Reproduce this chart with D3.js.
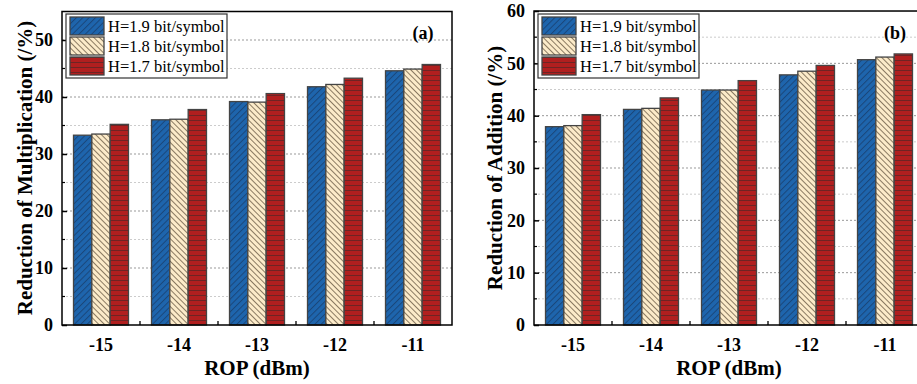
<!DOCTYPE html>
<html>
<head>
<meta charset="utf-8">
<script src="https://cdn.jsdelivr.net/npm/d3@7/dist/d3.min.js"></script>
<style>
    body { margin: 0; background: #fff; }
    svg { display: block; }
</style>
</head>
<body>
<svg id="chart" width="917" height="384"></svg>
<script>
// data
const rop = ["-15", "-14", "-13", "-12", "-11"];
const seriesNames = ["H=1.9 bit/symbol", "H=1.8 bit/symbol", "H=1.7 bit/symbol"];
const multH19 = [33.3, 36.0, 39.2, 41.8, 44.6];
const multH18 = [33.5, 36.1, 39.1, 42.2, 44.9];
const multH17 = [35.2, 37.8, 40.6, 43.3, 45.7];
const addH19 = [37.9, 41.2, 44.9, 47.8, 50.7];
const addH18 = [38.1, 41.4, 44.9, 48.5, 51.2];
const addH17 = [40.2, 43.4, 46.7, 49.6, 51.8];
const multTicks = [0, 10, 20, 30, 40, 50];
const addTicks = [0, 10, 20, 30, 40, 50, 60];

const FONT = "Liberation Serif";
const svg = d3.select("#chart").attr("font-family", FONT);

// hatch patterns
const defs = svg.append("defs");
function hatch(id, bg, line, angle, gap) {
    let p = defs.append("pattern").attr("id", id)
        .attr("patternUnits", "userSpaceOnUse")
        .attr("width", gap).attr("height", gap)
        .attr("patternTransform", "rotate(" + angle + ")");
    p.append("rect").attr("width", gap).attr("height", gap).attr("fill", bg);
    p.append("line").attr("x1", 0.5).attr("y1", 0).attr("x2", 0.5).attr("y2", gap)
        .attr("stroke", line).attr("stroke-width", 1);
}
hatch("pBlue", "#1e65ad", "#1a467a", 45, 4.5);
hatch("pCream", "#fcebc9", "#8a7a62", -45, 4);
hatch("pRed", "#b11f1f", "#6e2424", 90, 5);
const fills = ["url(#pBlue)", "url(#pCream)", "url(#pRed)"];

function boldText(sel, size) {
    return sel.attr("font-family", FONT).attr("font-weight", "bold")
        .attr("font-size", size).attr("fill", "#000");
}

function drawPanel(cfg) {
    let g = svg.append("g");
    let x = d3.scaleBand().domain(rop).range([cfg.left, cfg.left + 390])
        .paddingInner(0.295).paddingOuter(0.1475);
    let xs = d3.scaleBand().domain(seriesNames).range([0, x.bandwidth()]);
    let y = d3.scaleLinear().domain([0, cfg.ymax]).range([325, 325 - cfg.ymax * cfg.unit]);
    let right = cfg.left + 390, top = y(cfg.ymax);

    // dotted grid every 5
    let gridVals = d3.range(5, cfg.ymax, 5);
    g.selectAll(".grid").data(gridVals).enter().append("line")
        .attr("x1", cfg.left).attr("x2", right)
        .attr("y1", d => y(d)).attr("y2", d => y(d))
        .attr("stroke", d => d % 10 == 0 ? "#999" : "#ccc")
        .attr("stroke-width", 1).attr("stroke-dasharray", "2,2");

    // bars
    let groups = g.selectAll(".grp").data(rop).enter().append("g")
        .attr("transform", d => "translate(" + x(d) + ",0)");
    groups.selectAll("rect").data((d, i) => cfg.series.map((s, k) => ({k: k, v: s[i]})))
        .enter().append("rect")
        .attr("x", d => xs(seriesNames[d.k]))
        .attr("width", xs.bandwidth())
        .attr("y", d => y(d.v))
        .attr("height", d => y(0) - y(d.v))
        .attr("fill", d => fills[d.k])
        .attr("stroke", "#444").attr("stroke-width", 1.3);

    // frame
    g.append("rect").attr("x", cfg.left).attr("y", top)
        .attr("width", 390).attr("height", y(0) - top)
        .attr("fill", "none").attr("stroke", "#000").attr("stroke-width", 1.5);

    // y axis ticks (inward)
    let yAxis = d3.axisLeft(y).tickValues(cfg.ticks).tickSize(-5).tickPadding(9);
    let ya = g.append("g").attr("transform", "translate(" + cfg.left + ",0)").call(yAxis)
        .attr("font-family", FONT);
    ya.select(".domain").remove();
    boldText(ya.selectAll("text"), 18);
    ya.selectAll("line").attr("stroke-width", 1.5);
    g.selectAll(".ymin").data(d3.range(5, cfg.ymax, 10)).enter().append("line")
        .attr("x1", cfg.left).attr("x2", cfg.left + 3)
        .attr("y1", d => y(d)).attr("y2", d => y(d))
        .attr("stroke", "#000").attr("stroke-width", 1.2);

    // x axis labels and in-between ticks
    let xAxis = d3.axisBottom(x).tickSize(0).tickPadding(13);
    let xa = g.append("g").attr("transform", "translate(0,325)").call(xAxis)
        .attr("font-family", FONT);
    xa.select(".domain").remove();
    boldText(xa.selectAll("text"), 18);
    g.selectAll(".xmin").data(rop.slice(1)).enter().append("line")
        .attr("x1", d => x(d) - x.step() * x.paddingInner() / 2)
        .attr("x2", d => x(d) - x.step() * x.paddingInner() / 2)
        .attr("y1", 325).attr("y2", 321)
        .attr("stroke", "#000").attr("stroke-width", 1.3);

    // titles
    boldText(g.append("text"), 21).attr("x", cfg.left + 195).attr("y", 375)
        .attr("text-anchor", "middle").text("ROP (dBm)");
    boldText(g.append("text"), 21)
        .attr("transform", "translate(" + cfg.titleX + ",168) rotate(-90)")
        .attr("text-anchor", "middle").text(cfg.title);
    boldText(g.append("text"), 18).attr("x", cfg.left + 361).attr("y", 39)
        .attr("text-anchor", "middle").text(cfg.tag);

    // legend
    let lx = cfg.left + 4;
    g.append("rect").attr("x", lx).attr("y", 14).attr("width", 161).attr("height", 64)
        .attr("fill", "#fff").attr("stroke", "#333").attr("stroke-width", 1.2);
    let items = g.selectAll(".leg").data(seriesNames).enter().append("g")
        .attr("transform", (d, i) => "translate(" + (lx + 4) + "," + (17 + i * 20) + ")");
    items.append("rect").attr("width", 34).attr("height", 18)
        .attr("fill", (d, i) => fills[i]).attr("stroke", "#444").attr("stroke-width", 1.3);
    items.append("text").attr("x", 38).attr("y", 14.5).attr("font-family", FONT)
        .attr("font-size", 16.5).attr("fill", "#000").text(d => d);
}

drawPanel({left: 62, ymax: 55, unit: 5.7, ticks: multTicks, series: [multH19, multH18, multH17],
    title: "Reduction of Multiplication (/%)", titleX: 32, tag: "(a)"});
drawPanel({left: 534, ymax: 60, unit: 5.233, ticks: addTicks, series: [addH19, addH18, addH17],
    title: "Reduction of Addition (/%)", titleX: 502, tag: "(b)"});
</script>
</body>
</html>
